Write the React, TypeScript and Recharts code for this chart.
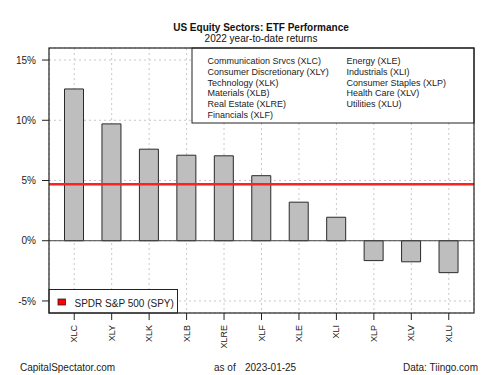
import React from "react";
import { BarChart, Bar, XAxis, YAxis, CartesianGrid, ReferenceLine } from "recharts";

const tickers = ["XLC", "XLY", "XLK", "XLB", "XLRE", "XLF", "XLE", "XLI", "XLP", "XLV", "XLU"];
const returns = [12.6, 9.7, 7.6, 7.1, 7.05, 5.4, 3.2, 1.95, -1.65, -1.75, -2.65];
const spyReturn = 4.68;
const yTicks = [-5, 0, 5, 10, 15];
const legendCol1 = [
  "Communication Srvcs (XLC)",
  "Consumer Discretionary (XLY)",
  "Technology (XLK)",
  "Materials (XLB)",
  "Real Estate (XLRE)",
  "Financials (XLF)",
];
const legendCol2 = [
  "Energy (XLE)",
  "Industrials (XLI)",
  "Consumer Staples (XLP)",
  "Health Care (XLV)",
  "Utilities (XLU)",
];

const data = tickers.map((t, i) => ({ ticker: t, value: returns[i] }));

const FONT = "'Liberation Sans', Arial, sans-serif";

const XTick = (props: any) => {
  const { x, y, payload } = props;
  return (
    <text
      x={x}
      y={y}
      transform={`rotate(-90 ${x} ${y})`}
      textAnchor="end"
      dominantBaseline="central"
      fontSize={9}
      fontFamily={FONT}
      fill="#222"
    >
      {payload.value}
    </text>
  );
};

export default function App() {
  return (
    <div style={{ position: "absolute", left: 0, top: 0, width: 500, height: 375, background: "#fff" }}>
      <div style={{ position: "absolute", left: 0, top: 0 }}>
        <BarChart
          width={500}
          height={375}
          data={data}
          margin={{ top: 48, right: 26, left: 0, bottom: 0 }}
          barSize={19}
        >
          <CartesianGrid stroke="#c8c8c8" strokeDasharray="2 3" />
          <XAxis
            dataKey="ticker"
            interval={0}
            height={62}
            tickSize={7}
            tickMargin={5}
            axisLine={false}
            tickLine={{ stroke: "#222" }}
            padding={{ left: 6.5, right: 6.5 }}
            tick={<XTick />}
          />
          <YAxis
            width={49}
            domain={[-6, 16]}
            ticks={yTicks}
            allowDataOverflow
            tickFormatter={(v: number) => `${v}%`}
            tickSize={7}
            tickMargin={6}
            axisLine={false}
            tickLine={{ stroke: "#222" }}
            tick={{ fontSize: 10, fontFamily: FONT, fill: "#222" }}
          />
          <Bar dataKey="value" fill="#bebebe" stroke="#2a2a2a" strokeWidth={1} isAnimationActive={false} />
          <ReferenceLine y={0} stroke="#444" strokeWidth={1} />
          <ReferenceLine y={spyReturn} stroke="#ff2020" strokeWidth={2.5} />
        </BarChart>
      </div>
      <svg
        width={500}
        height={375}
        style={{ position: "absolute", left: 0, top: 0, pointerEvents: "none" }}
        fontFamily={FONT}
      >
        <text x={261} y={27.5} textAnchor="middle" dominantBaseline="central" fontSize={10} fontWeight="bold" fill="#111">
          US Equity Sectors: ETF Performance
        </text>
        <text x={261} y={38} textAnchor="middle" dominantBaseline="central" fontSize={10} fill="#111">
          2022 year-to-date returns
        </text>

        <rect x={192} y={48} width={282} height={75} fill="#fff" stroke="#222" strokeWidth={1} />
        {legendCol1.map((s, i) => (
          <text key={s} x={207.5} y={61 + i * 10.8} dominantBaseline="central" fontSize={9} fill="#222">
            {s}
          </text>
        ))}
        {legendCol2.map((s, i) => (
          <text key={s} x={346.5} y={61 + i * 10.8} dominantBaseline="central" fontSize={9} fill="#222">
            {s}
          </text>
        ))}

        <rect x={49} y={289.5} width={128.5} height={23.5} fill="#fff" stroke="#222" strokeWidth={1} />
        <rect x={58} y={299} width={7.5} height={6} fill="#ff0000" stroke="#222" strokeWidth={0.8} />
        <text x={74.5} y={303} dominantBaseline="central" fontSize={10} fill="#222">
          SPDR S&amp;P 500 (SPY)
        </text>

        <rect x={49} y={48} width={425} height={265} fill="none" stroke="#222" strokeWidth={1.2} />

        <text x={20} y={367.5} dominantBaseline="central" fontSize={10} fill="#222">
          CapitalSpectator.com
        </text>
        <text x={214} y={367.5} dominantBaseline="central" fontSize={10} fill="#222">
          as of
        </text>
        <text x={245} y={367.5} dominantBaseline="central" fontSize={10} fill="#222">
          2023-01-25
        </text>
        <text x={478} y={367.5} textAnchor="end" dominantBaseline="central" fontSize={10} fill="#222">
          Data: Tiingo.com
        </text>
      </svg>
    </div>
  );
}
